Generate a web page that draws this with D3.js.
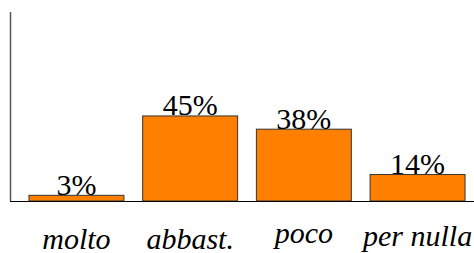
<!DOCTYPE html>
<html><head><meta charset="utf-8"><script src="https://cdn.jsdelivr.net/npm/d3@7"></script></head>
<body style="margin:0">
<div id="c"></div>
<script>
// risposte (percentuali)
const categories = ["molto", "abbast.", "poco", "per nulla"];
const values = [3, 45, 38, 14];

const FS = 30;
const svg = d3.select("#c").append("svg")
  .attr("width", 474)
  .attr("height", 253);

const x = d3.scaleBand()
  .domain(categories)
  .range([11, 483])
  .paddingInner(0.165)
  .paddingOuter(0.158);

const y = d3.scaleLinear()
  .domain([0, 100])
  .range([201, 12]);

// bars
svg.selectAll("rect")
  .data(values)
  .enter().append("rect")
    .attr("x", (d, i) => x(categories[i]))
    .attr("y", d => y(d))
    .attr("width", x.bandwidth())
    .attr("height", d => y(0) - y(d))
    .attr("fill", "#ff8000")
    .attr("stroke", "#333")
    .attr("stroke-width", 1);

// axes: left line + baseline
svg.append("line")
  .attr("x1", 10.5).attr("x2", 10.5)
  .attr("y1", y(100)).attr("y2", y(0))
  .attr("stroke", "#555")
  .attr("stroke-width", 1.5);

svg.append("line")
  .attr("x1", 10).attr("x2", 474)
  .attr("y1", y(0) + 0.5).attr("y2", y(0) + 0.5)
  .attr("stroke", "#000")
  .attr("stroke-width", 1.2);

// percent labels on top of bars
svg.append("g").selectAll("text")
  .data(values)
  .enter().append("text")
    .attr("x", (d, i) => x(categories[i]) + x.bandwidth() / 2)
    .attr("y", d => y(d) - 0.5)
    .attr("text-anchor", "middle")
    .attr("font-family", "Times New Roman")
    .attr("font-size", FS)
    .text(d => d + "%");

// category labels: ink box centred on one line (rough glyph metrics)
const labelMid = 239;
function inkShift(s) {
  const top = /[bdfhklA-Z]/.test(s) ? 0.683 : 0.45;
  const bottom = /[gjpqy]/.test(s) ? 0.21 : 0;
  return (top - bottom) / 2 * FS;
}
svg.append("g").selectAll("text")
  .data(categories)
  .enter().append("text")
    .attr("x", d => x(d) + x.bandwidth() / 2)
    .attr("y", d => labelMid + inkShift(d))
    .attr("text-anchor", "middle")
    .attr("font-family", "Times New Roman")
    .attr("font-size", FS)
    .attr("font-style", "italic")
    .text(d => d);
</script></body></html>
